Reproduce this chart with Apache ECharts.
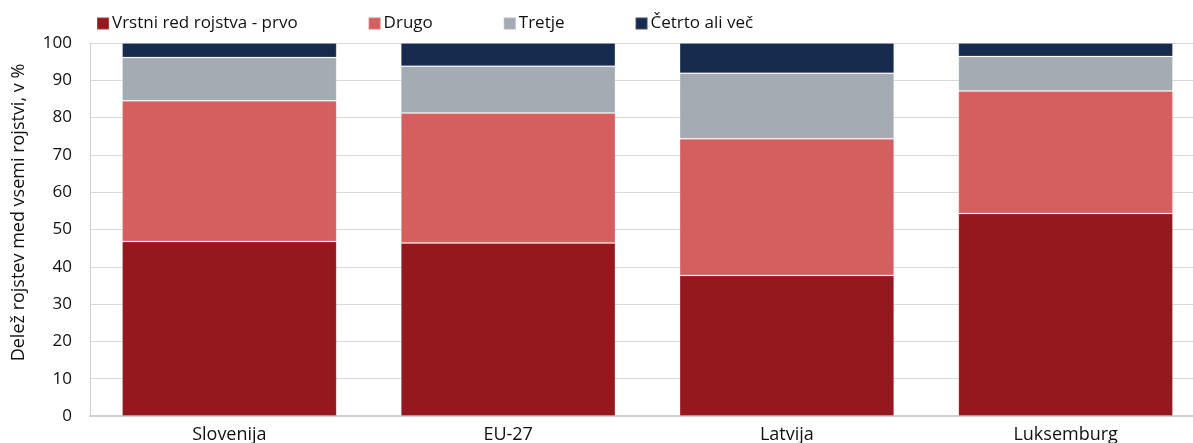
<!DOCTYPE html>
<html>
<head>
<meta charset="utf-8">
<script src="https://cdn.jsdelivr.net/npm/echarts@6/dist/echarts.min.js"></script>
<style>
  html, body { margin: 0; padding: 0; background: #fff; }
  #chart { width: 1193px; height: 443px; }
</style>
</head>
<body>
<div id="chart"></div>
<script>
// kategorije (države)
var categories = ['Slovenija', 'EU-27', 'Latvija', 'Luksemburg'];
// deleži po vrstnem redu rojstva, v %
var prvo = [46.8, 46.4, 37.7, 54.3];
var drugo = [37.7, 34.8, 36.6, 32.8];
var tretje = [11.6, 12.6, 17.6, 9.3];
var cetrto = [3.9, 6.2, 8.1, 3.6];
var seriesNames = ['Vrstni red rojstva - prvo', 'Drugo', 'Tretje', 'Četrto ali več'];
var colors = ['#94181e', '#d45f5e', '#a4abb2', '#172b4f'];

var fontFam = '"Open Sans", sans-serif';
var chart = echarts.init(document.getElementById('chart'));

var allData = [prvo, drugo, tretje, cetrto];
var series = allData.map(function (d, i) {
    return {
        name: seriesNames[i],
        type: 'bar',
        stack: 'skupaj',
        data: d,
        barWidth: '77%',
        itemStyle: {
            color: colors[i],
            borderColor: 'rgba(255,255,255,0.18)',
            borderWidth: 1
        },
        emphasis: { disabled: true }
    };
});

var option = {
    animation: false,
    color: colors,
    textStyle: { fontFamily: fontFam },
    legend: {
        left: 91,
        top: 10,
        itemWidth: 12,
        itemHeight: 12,
        itemGap: 70,
        icon: 'rect',
        textStyle: { fontSize: 17, color: '#111', fontFamily: fontFam, padding: [0, 0, 0, -2] },
        data: seriesNames
    },
    grid: {
        left: 90,
        width: 1115,
        top: 43,
        bottom: 27,
        outerBoundsMode: 'none'
    },
    xAxis: {
        type: 'category',
        data: categories,
        axisTick: { show: false },
        axisLine: { lineStyle: { color: '#d0d0d0', width: 2 } },
        axisLabel: { fontSize: 18, color: '#111', margin: 10 }
    },
    yAxis: {
        type: 'value',
        min: 0,
        max: 100,
        interval: 10,
        name: 'Delež rojstev med vsemi rojstvi, v %',
        nameLocation: 'middle',
        nameGap: 62,
        nameTextStyle: { fontSize: 18, color: '#111', padding: [0, 0, 0, 34] },
        axisLine: { show: true, lineStyle: { color: '#d0d0d0', width: 1 } },
        axisTick: { show: false },
        splitLine: { lineStyle: { color: '#d9d9d9', width: 1 } },
        axisLabel: { fontSize: 17, color: '#111', margin: 18 }
    },
    series: series
};
chart.setOption(option);
</script>
</body>
</html>
